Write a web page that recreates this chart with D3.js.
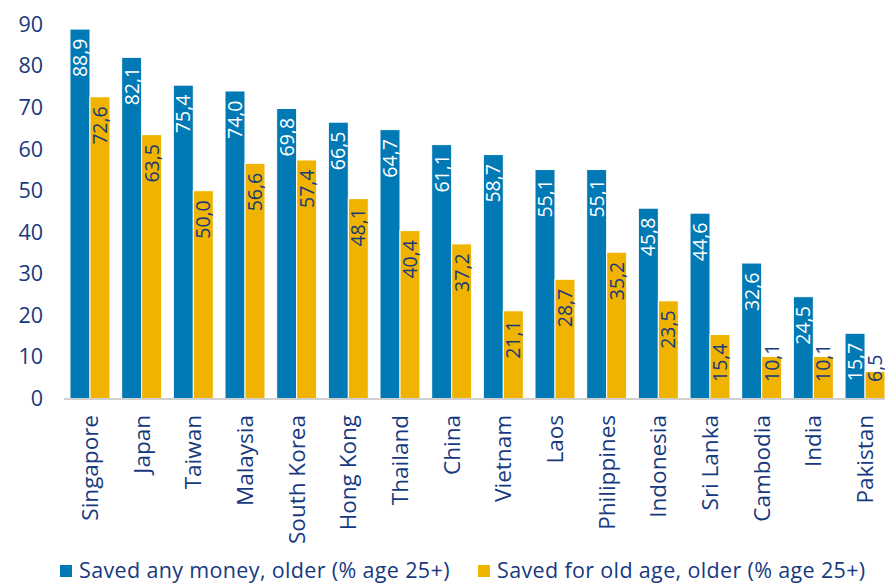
<!DOCTYPE html>
<html>
<head>
<meta charset="utf-8">
<script src="https://cdn.jsdelivr.net/npm/d3@7"></script>
<style>
  body { margin: 0; background: #fff; }
  svg { display: block; font-family: "Open Sans", sans-serif; }
</style>
</head>
<body>
<svg width="885" height="583"></svg>
<script>
const width = 885;
const height = 583;

// 数据
const countries = ["Singapore", "Japan", "Taiwan", "Malaysia", "South Korea", "Hong Kong", "Thailand", "China",
  "Vietnam", "Laos", "Philippines", "Indonesia", "Sri Lanka", "Cambodia", "India", "Pakistan"];
const savedAny = [88.9, 82.1, 75.4, 74.0, 69.8, 66.5, 64.7, 61.1, 58.7, 55.1, 55.1, 45.8, 44.6, 32.6, 24.5, 15.7];
const savedOld = [72.6, 63.5, 50.0, 56.6, 57.4, 48.1, 40.4, 37.2, 21.1, 28.7, 35.2, 23.5, 15.4, 10.1, 10.1, 6.5];
const seriesNames = ["Saved any money, older (% age 25+)", "Saved for old age, older (% age 25+)"];
const yTicks = [0, 10, 20, 30, 40, 50, 60, 70, 80, 90];

const colors = ["#0079b4", "#f0b400"];
const labelColors = ["#ffffff", "#17397e"];
const navy = "#17397e";

const svg = d3.select("svg");

const x0 = d3.scaleBand()
    .domain(countries)
    .range([64.15, 890.85])
    .paddingInner(0.226)
    .paddingOuter(0.113);

const x1 = d3.scaleBand()
    .domain([0, 1])
    .range([0, x0.bandwidth()]);

const y = d3.scaleLinear()
    .domain([0, 90])
    .range([398.5, 24.5]);

// Y 轴
const yAxis = svg.append("g")
    .attr("transform", "translate(50,0)")
    .call(d3.axisLeft(y).tickValues(yTicks).tickSize(0).tickPadding(7));
yAxis.select(".domain").remove();
yAxis.selectAll("text")
    .attr("fill", navy)
    .style("font-size", "21.5px")
    .style("font-family", "'Open Sans', sans-serif");

// 柱子
const rows = countries.map((c, i) => ({ country: c, values: [savedAny[i], savedOld[i]] }));

const groups = svg.append("g").selectAll("g")
    .data(rows)
    .join("g")
    .attr("transform", d => `translate(${x0(d.country)},0)`);

groups.selectAll("rect")
    .data(d => d.values.map((v, k) => ({ v, k })))
    .join("rect")
    .attr("x", d => x1(d.k))
    .attr("y", d => y(d.v))
    .attr("width", x1.bandwidth())
    .attr("height", d => y(0) - y(d.v))
    .attr("fill", d => colors[d.k])
    .attr("stroke", "#ffffff")
    .attr("stroke-width", 1);

// 数值标签（竖排）
groups.selectAll("text.val")
    .data(d => d.values.map((v, k) => ({ v, k })))
    .join("text")
    .attr("class", "val")
    .attr("transform", d => {
        const cx = x1(d.k) + x1.bandwidth() / 2;
        const yy = Math.min(y(d.v) + 48, 382);
        return `translate(${cx},${yy}) rotate(-90)`;
    })
    .attr("dy", "0.36em")
    .attr("text-anchor", "start")
    .attr("fill", d => labelColors[d.k])
    .style("font-size", "19.5px")
    .text(d => d3.format(".1f")(d.v).replace(".", ","));

// 基线
svg.append("line")
    .attr("x1", 64).attr("x2", 885)
    .attr("y1", y(0) + 0.5).attr("y2", y(0) + 0.5)
    .attr("stroke", "#d0d0d0")
    .attr("stroke-width", 2);

// X 轴标签
svg.append("g").selectAll("text")
    .data(countries)
    .join("text")
    .attr("transform", d => `translate(${x0(d) + x0.bandwidth() / 2},415) rotate(-90)`)
    .attr("dy", "0.36em")
    .attr("text-anchor", "end")
    .attr("fill", navy)
    .style("font-size", "22.5px")
    .text(d => d);

// 图例
const legendX = [60, 478];
const legend = svg.append("g").selectAll("g")
    .data(seriesNames)
    .join("g")
    .attr("transform", (d, i) => `translate(${legendX[i]},565)`);
legend.append("rect")
    .attr("width", 12).attr("height", 12)
    .attr("fill", (d, i) => colors[i]);
legend.append("text")
    .attr("x", 19).attr("y", 5)
    .attr("dy", "0.36em")
    .attr("fill", navy)
    .style("font-size", "21.5px")
    .style("letter-spacing", "0.35px")
    .text(d => d);
</script>
</body>
</html>
